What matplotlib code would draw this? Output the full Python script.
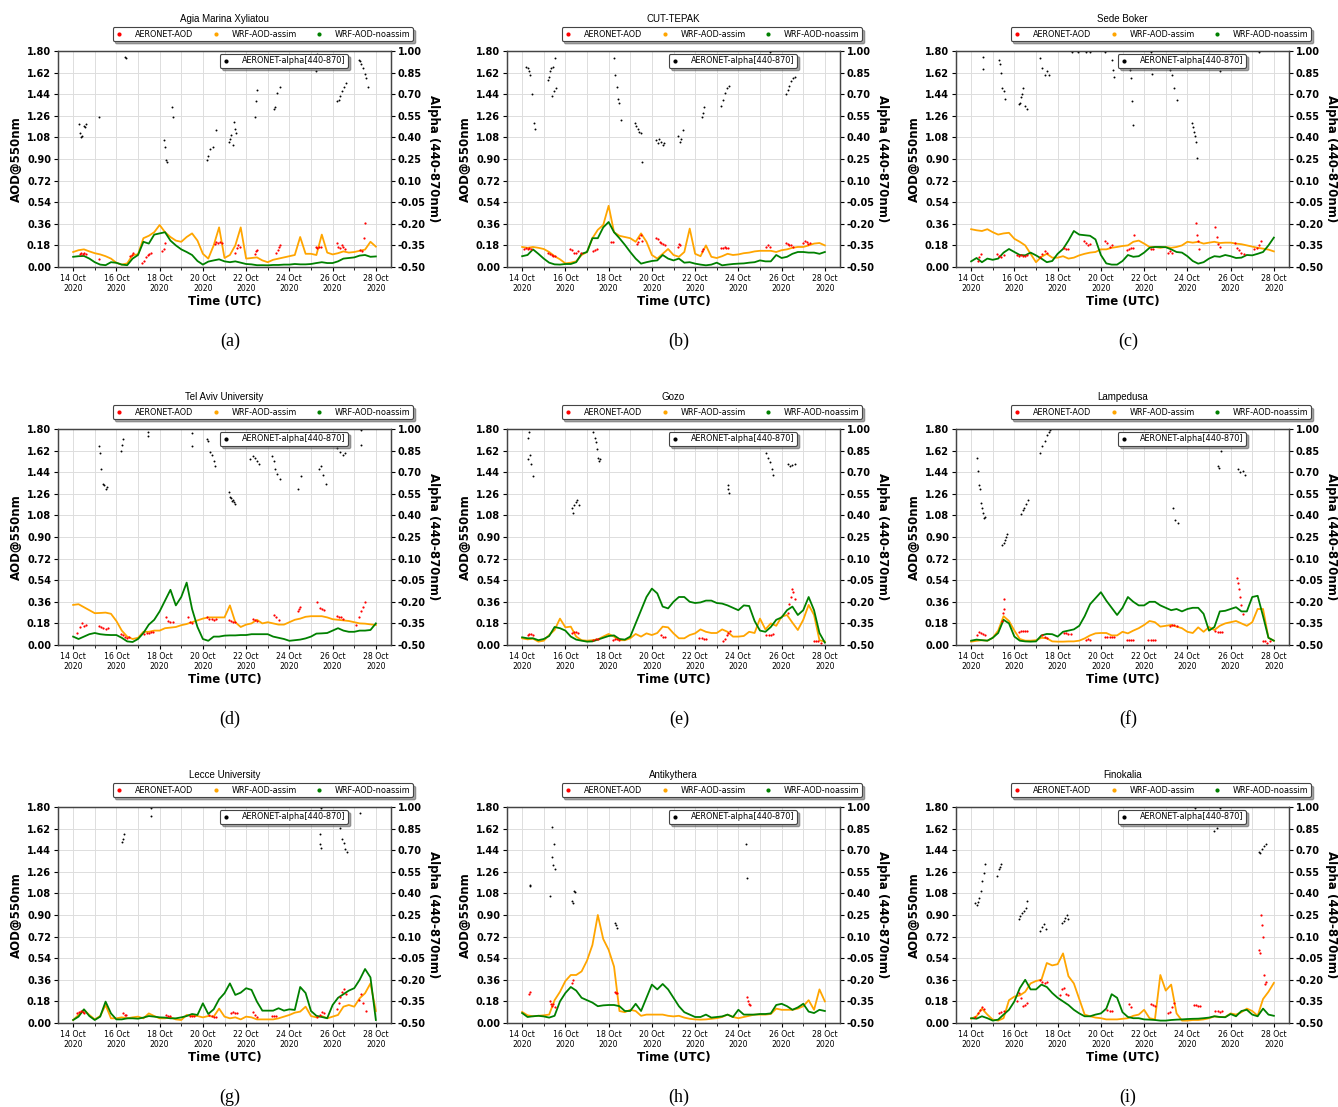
import matplotlib
matplotlib.use("Agg")
import matplotlib.pyplot as plt
import matplotlib.dates as mdates
from matplotlib.lines import Line2D
import numpy as np
from datetime import datetime

# model output every 6 h, 14 Oct 00 UTC -> 28 Oct 00 UTC
wrf_days = np.arange(57) * 0.25

# ---- Agia Marina Xyliatou ----
agia_assim = [0.125, 0.14, 0.147, 0.13, 0.115, 0.105, 0.09, 0.07, 0.035, 0.02, 0.03, 0.10, 0.105, 0.24, 0.26, 0.29,
              0.35, 0.29, 0.25, 0.22, 0.21, 0.25, 0.28, 0.22, 0.11, 0.07, 0.18, 0.33, 0.075, 0.10, 0.18, 0.33, 0.07,
              0.075, 0.08, 0.055, 0.04, 0.06, 0.07, 0.08, 0.09, 0.10, 0.25, 0.11, 0.11, 0.10, 0.27, 0.12, 0.105, 0.115,
              0.13, 0.12, 0.125, 0.135, 0.145, 0.21, 0.17]
agia_noassim = [0.085, 0.09, 0.092, 0.07, 0.04, 0.02, 0.015, 0.04, 0.035, 0.02, 0.015, 0.07, 0.10, 0.21, 0.195, 0.27,
                0.28, 0.29, 0.22, 0.18, 0.147, 0.125, 0.10, 0.05, 0.02, 0.045, 0.055, 0.064, 0.047, 0.04, 0.047, 0.036,
                0.025, 0.022, 0.015, 0.015, 0.014, 0.017, 0.017, 0.02, 0.02, 0.025, 0.022, 0.022, 0.025, 0.033, 0.04,
                0.033, 0.033, 0.047, 0.07, 0.075, 0.08, 0.095, 0.10, 0.085, 0.088]
agia_aod_t = [0.30, 0.38, 0.45, 0.52, 0.58, 1.20, 2.62, 2.70, 2.78, 3.20, 3.28, 3.36, 3.44, 3.52, 3.60, 4.12, 4.18,
              4.25, 6.55, 6.62, 6.70, 6.80, 6.88, 7.50, 7.56, 7.62, 7.70, 8.40, 8.46, 8.52, 9.40, 9.46, 9.52, 9.58,
              11.22, 11.30, 11.38, 11.46, 12.18, 12.26, 12.34, 12.42, 12.50, 12.58, 13.28, 13.36, 13.44, 13.52]
agia_aod = [0.11, 0.12, 0.11, 0.12, 0.11, 0.07, 0.09, 0.10, 0.12, 0.03, 0.05, 0.08, 0.10, 0.11, 0.12, 0.13, 0.15,
            0.20, 0.19, 0.21, 0.20, 0.21, 0.20, 0.12, 0.16, 0.18, 0.17, 0.11, 0.13, 0.14, 0.12, 0.14, 0.17, 0.18,
            0.17, 0.16, 0.17, 0.17, 0.20, 0.17, 0.16, 0.18, 0.17, 0.15, 0.14, 0.13, 0.24, 0.37]
agia_alpha_t = [0.25, 0.30, 0.35, 0.40, 0.50, 0.55, 0.60, 1.20, 2.40, 2.45, 4.20, 4.25, 4.30, 4.35, 4.55, 4.60,
                6.20, 6.25, 6.35, 6.45, 6.60, 7.20, 7.25, 7.30, 7.40, 7.45, 7.50, 7.55, 8.40, 8.45, 8.50,
                9.30, 9.35, 9.45, 9.55, 11.25, 11.30, 12.20, 12.28, 12.36, 12.44, 12.52, 12.60,
                13.20, 13.26, 13.32, 13.40, 13.48, 13.54, 13.62]
agia_alpha = [0.49, 0.43, 0.40, 0.41, 0.48, 0.47, 0.49, 0.54, 0.96, 0.95, 0.38, 0.33, 0.24, 0.23, 0.61, 0.54,
              0.24, 0.27, 0.32, 0.33, 0.45, 0.37, 0.39, 0.42, 0.35, 0.51, 0.46, 0.43, 0.54, 0.65, 0.73,
              0.60, 0.61, 0.71, 0.75, 0.86, 0.98, 0.65, 0.66, 0.69, 0.72, 0.75, 0.78,
              0.94, 0.93, 0.91, 0.88, 0.84, 0.81, 0.75]

# ---- CUT-TEPAK ----
cut_assim = [0.167, 0.16, 0.167, 0.16, 0.15, 0.125, 0.09, 0.064, 0.03, 0.036, 0.047, 0.10, 0.125, 0.24, 0.31, 0.35,
             0.51, 0.29, 0.26, 0.25, 0.24, 0.21, 0.28, 0.21, 0.10, 0.07, 0.11, 0.15, 0.10, 0.085, 0.125, 0.32, 0.11,
             0.09, 0.18, 0.085, 0.075, 0.09, 0.11, 0.10, 0.105, 0.115, 0.12, 0.13, 0.135, 0.135, 0.135, 0.125, 0.14,
             0.147, 0.16, 0.167, 0.167, 0.18, 0.195, 0.20, 0.18]
cut_noassim = [0.09, 0.10, 0.147, 0.11, 0.07, 0.036, 0.022, 0.02, 0.025, 0.025, 0.04, 0.11, 0.125, 0.24, 0.24, 0.33,
               0.375, 0.29, 0.24, 0.185, 0.125, 0.07, 0.028, 0.04, 0.05, 0.055, 0.10, 0.07, 0.055, 0.07, 0.036, 0.04,
               0.028, 0.02, 0.014, 0.02, 0.036, 0.014, 0.02, 0.025, 0.028, 0.03, 0.036, 0.04, 0.055, 0.047, 0.047,
               0.10, 0.075, 0.085, 0.11, 0.125, 0.125, 0.12, 0.12, 0.11, 0.125]
cut_aod_t = [0.10, 0.18, 0.26, 0.34, 0.40, 1.20, 1.28, 1.36, 1.44, 1.52, 2.20, 2.30, 2.40, 2.50, 2.60, 2.70,
             3.30, 3.38, 3.46, 4.10, 4.18, 5.30, 5.36, 5.42, 5.48, 5.54, 6.20, 6.28, 6.36, 6.44, 6.52, 6.60,
             7.20, 7.26, 7.32, 8.30, 8.36, 9.20, 9.28, 9.36, 9.44, 9.52, 11.30, 11.38, 11.46,
             12.20, 12.28, 12.36, 12.44, 12.52, 13.00, 13.08, 13.16, 13.24, 13.32]
cut_aod = [0.15, 0.16, 0.15, 0.16, 0.15, 0.12, 0.11, 0.10, 0.09, 0.09, 0.15, 0.14, 0.12, 0.12, 0.13, 0.12,
           0.13, 0.14, 0.15, 0.21, 0.21, 0.19, 0.21, 0.24, 0.27, 0.22, 0.24, 0.23, 0.21, 0.20, 0.19, 0.18,
           0.17, 0.19, 0.18, 0.13, 0.15, 0.16, 0.16, 0.17, 0.16, 0.16, 0.17, 0.18, 0.17,
           0.20, 0.19, 0.18, 0.18, 0.17, 0.20, 0.22, 0.21, 0.19, 0.20]
cut_alpha_t = [0.20, 0.25, 0.30, 0.35, 0.45, 0.55, 0.58, 1.20, 1.25, 1.30, 1.35, 1.45, 1.52, 1.40, 1.48, 1.55,
               4.25, 4.30, 4.40, 4.45, 4.50, 4.58, 5.20, 5.28, 5.35, 5.42, 5.50, 5.55, 6.20, 6.28, 6.35, 6.42,
               6.50, 6.58, 7.20, 7.28, 7.35, 7.42, 8.30, 8.35, 8.40, 9.20, 9.30, 9.40, 9.48, 9.56, 11.45,
               12.20, 12.28, 12.36, 12.44, 12.52, 12.60]
cut_alpha = [0.89, 0.88, 0.86, 0.83, 0.70, 0.50, 0.46, 0.80, 0.82, 0.86, 0.88, 0.89, 0.95, 0.69, 0.72, 0.74,
             0.95, 0.83, 0.75, 0.67, 0.64, 0.52, 0.50, 0.48, 0.46, 0.44, 0.43, 0.23, 0.38, 0.36, 0.39, 0.37,
             0.35, 0.36, 0.41, 0.37, 0.39, 0.45, 0.54, 0.57, 0.61, 0.62, 0.66, 0.71, 0.74, 0.76, 0.99,
             0.70, 0.73, 0.76, 0.79, 0.81, 0.82]

# ---- Sede Boker ----
sede_assim = [0.315, 0.306, 0.30, 0.315, 0.29, 0.27, 0.28, 0.285, 0.235, 0.21, 0.18, 0.11, 0.04, 0.085, 0.11, 0.078,
              0.078, 0.09, 0.07, 0.078, 0.097, 0.11, 0.12, 0.125, 0.147, 0.147, 0.16, 0.167, 0.175, 0.18, 0.21, 0.22,
              0.195, 0.167, 0.167, 0.16, 0.167, 0.16, 0.167, 0.18, 0.21, 0.203, 0.21, 0.195, 0.203, 0.21, 0.20,
              0.203, 0.203, 0.195, 0.19, 0.18, 0.17, 0.16, 0.153, 0.145, 0.13]
sede_noassim = [0.047, 0.075, 0.04, 0.07, 0.06, 0.07, 0.12, 0.15, 0.125, 0.10, 0.097, 0.12, 0.097, 0.07, 0.04, 0.05,
                0.11, 0.15, 0.22, 0.30, 0.27, 0.265, 0.26, 0.23, 0.10, 0.03, 0.02, 0.02, 0.05, 0.10, 0.085, 0.09,
                0.12, 0.16, 0.167, 0.167, 0.165, 0.147, 0.125, 0.12, 0.09, 0.05, 0.028, 0.04, 0.07, 0.09, 0.085,
                0.10, 0.09, 0.075, 0.078, 0.10, 0.097, 0.11, 0.125, 0.18, 0.245]
sede_aod_t = [0.30, 0.38, 0.46, 1.20, 1.30, 1.40, 1.50, 2.10, 2.20, 2.30, 2.40, 2.50, 2.60, 3.20, 3.30, 3.40, 3.50,
              4.30, 4.40, 4.50, 5.20, 5.30, 5.40, 5.50, 6.20, 6.30, 6.40, 6.50, 7.20, 7.30, 7.40, 7.50, 7.55,
              8.30, 8.40, 9.10, 9.20, 9.30, 10.40, 10.45, 10.50, 10.55, 11.30, 11.35, 11.40, 11.50,
              12.20, 12.30, 12.40, 12.50, 12.60, 13.10, 13.20, 13.30, 13.40]
sede_aod = [0.05, 0.08, 0.11, 0.11, 0.09, 0.08, 0.10, 0.10, 0.09, 0.10, 0.09, 0.09, 0.10, 0.08, 0.11, 0.13, 0.12,
            0.16, 0.15, 0.15, 0.22, 0.20, 0.18, 0.19, 0.22, 0.20, 0.17, 0.18, 0.14, 0.15, 0.16, 0.16, 0.27,
            0.15, 0.15, 0.12, 0.13, 0.12, 0.37, 0.27, 0.22, 0.15, 0.33, 0.25, 0.19, 0.17,
            0.20, 0.16, 0.14, 0.12, 0.11, 0.15, 0.16, 0.18, 0.22]
sede_alpha_t = [0.53, 0.53, 1.30, 1.35, 1.40, 1.45, 1.50, 1.55, 2.20, 2.25, 2.30, 2.35, 2.40, 2.50, 2.60,
                3.20, 3.30, 3.40, 3.50, 3.60, 4.65, 4.95, 5.30, 5.50, 6.20, 6.50, 6.55, 6.60,
                7.20, 7.25, 7.35, 7.40, 7.45, 7.50, 8.30, 8.32, 8.38, 9.20, 9.30, 9.40, 9.50,
                10.20, 10.25, 10.30, 10.35, 10.40, 10.45, 11.50, 13.30]
sede_alpha = [0.96, 0.875, 0.94, 0.91, 0.85, 0.745, 0.72, 0.67, 0.63, 0.64, 0.68, 0.70, 0.74, 0.62, 0.60,
              0.95, 0.88, 0.83, 0.86, 0.83, 0.995, 0.995, 0.995, 0.995, 0.995, 0.94, 0.87, 0.82,
              0.93, 0.95, 0.87, 0.81, 0.65, 0.485, 0.995, 0.88, 0.84, 0.87, 0.83, 0.74, 0.66,
              0.50, 0.47, 0.44, 0.41, 0.37, 0.26, 0.86, 0.995]

# ---- Tel Aviv University ----
tel_assim = [0.334, 0.34, 0.315, 0.29, 0.265, 0.267, 0.27, 0.26, 0.20, 0.12, 0.07, 0.05, 0.06, 0.11, 0.11, 0.12,
             0.12, 0.14, 0.145, 0.15, 0.165, 0.175, 0.19, 0.205, 0.22, 0.23, 0.23, 0.23, 0.23, 0.33, 0.19, 0.15,
             0.17, 0.18, 0.21, 0.18, 0.19, 0.18, 0.17, 0.17, 0.19, 0.21, 0.22, 0.235, 0.24, 0.24, 0.24, 0.23,
             0.215, 0.21, 0.205, 0.20, 0.19, 0.18, 0.178, 0.172, 0.167]
tel_noassim = [0.07, 0.05, 0.07, 0.09, 0.10, 0.09, 0.085, 0.083, 0.083, 0.06, 0.03, 0.025, 0.05, 0.10, 0.17, 0.21,
               0.28, 0.37, 0.46, 0.33, 0.40, 0.52, 0.30, 0.15, 0.05, 0.035, 0.07, 0.07, 0.078, 0.08, 0.08, 0.083,
               0.083, 0.09, 0.09, 0.09, 0.09, 0.07, 0.06, 0.05, 0.035, 0.04, 0.045, 0.055, 0.07, 0.095, 0.097,
               0.10, 0.12, 0.14, 0.12, 0.11, 0.11, 0.12, 0.12, 0.125, 0.18]
tel_aod_t = [0.20, 0.30, 0.40, 0.50, 0.60, 1.20, 1.30, 1.40, 1.50, 1.60, 2.20, 2.30, 2.40, 2.50, 2.60,
             3.30, 3.40, 3.50, 3.60, 3.70, 4.30, 4.40, 4.50, 4.60, 5.30, 5.40, 5.50,
             6.20, 6.30, 6.40, 6.50, 6.60, 7.20, 7.30, 7.40, 7.50, 8.30, 8.40, 8.50, 9.30, 9.40, 9.50,
             10.40, 10.45, 10.50, 11.30, 11.40, 11.50, 11.60, 12.20, 12.30, 12.40, 12.50,
             13.10, 13.20, 13.30, 13.40, 13.50]
tel_aod = [0.10, 0.15, 0.18, 0.16, 0.17, 0.16, 0.15, 0.14, 0.13, 0.14, 0.09, 0.08, 0.07, 0.06, 0.07,
           0.09, 0.10, 0.10, 0.11, 0.11, 0.23, 0.20, 0.19, 0.19, 0.23, 0.19, 0.18,
           0.23, 0.22, 0.22, 0.21, 0.22, 0.21, 0.20, 0.19, 0.19, 0.22, 0.21, 0.20, 0.25, 0.23, 0.21,
           0.28, 0.30, 0.32, 0.36, 0.31, 0.30, 0.29, 0.24, 0.23, 0.23, 0.22,
           0.17, 0.23, 0.28, 0.32, 0.36]
tel_alpha_t = [1.20, 1.25, 1.30, 1.40, 1.45, 1.50, 1.55, 2.20, 2.25, 2.30, 3.45, 3.48, 5.50, 5.52,
               6.20, 6.25, 6.35, 6.40, 6.50, 6.55, 7.20, 7.25, 7.30, 7.35, 7.40, 7.45, 7.50,
               8.20, 8.30, 8.40, 8.50, 8.60, 9.20, 9.30, 9.35, 9.45, 9.55, 10.40, 10.55,
               11.35, 11.45, 11.55, 11.70, 12.20, 12.35, 12.50, 12.55, 13.30, 13.32]
tel_alpha = [0.88, 0.83, 0.72, 0.62, 0.61, 0.58, 0.60, 0.85, 0.89, 0.93, 0.98, 0.95, 0.97, 0.88,
             0.93, 0.92, 0.84, 0.82, 0.78, 0.745, 0.56, 0.53, 0.52, 0.50, 0.51, 0.49, 0.48,
             0.79, 0.81, 0.80, 0.78, 0.76, 0.81, 0.78, 0.72, 0.69, 0.65, 0.58, 0.675,
             0.72, 0.74, 0.68, 0.62, 0.87, 0.84, 0.82, 0.83, 0.995, 0.89]

# ---- Gozo ----
gozo_assim = [0.056, 0.047, 0.053, 0.028, 0.036, 0.083, 0.125, 0.22, 0.147, 0.153, 0.07, 0.04, 0.036, 0.04, 0.047,
              0.07, 0.092, 0.07, 0.04, 0.04, 0.056, 0.092, 0.07, 0.097, 0.083, 0.10, 0.153, 0.147, 0.097, 0.056,
              0.056, 0.083, 0.097, 0.13, 0.11, 0.10, 0.10, 0.13, 0.11, 0.07, 0.07, 0.075, 0.11, 0.10, 0.22, 0.13,
              0.18, 0.16, 0.236, 0.25, 0.186, 0.125, 0.21, 0.334, 0.25, 0.04, 0.028]
gozo_noassim = [0.064, 0.056, 0.056, 0.04, 0.05, 0.075, 0.15, 0.14, 0.12, 0.07, 0.045, 0.036, 0.028, 0.03, 0.045,
                0.06, 0.075, 0.08, 0.05, 0.045, 0.07, 0.18, 0.29, 0.40, 0.47, 0.43, 0.32, 0.305, 0.36, 0.40, 0.40,
                0.36, 0.35, 0.355, 0.37, 0.37, 0.35, 0.345, 0.33, 0.31, 0.29, 0.33, 0.325, 0.20, 0.12, 0.11, 0.15,
                0.21, 0.23, 0.29, 0.32, 0.25, 0.29, 0.40, 0.29, 0.10, 0.02]
gozo_aod_t = [0.25, 0.32, 0.40, 0.48, 2.30, 2.40, 2.50, 2.60, 3.30, 3.40, 3.50, 4.20, 4.30, 4.40, 4.50,
              6.40, 6.50, 6.60, 8.20, 8.30, 8.40, 8.50, 9.30, 9.38, 9.46, 9.54, 9.60, 11.30, 11.40, 11.50, 11.60,
              12.30, 12.36, 12.42, 12.48, 12.54, 12.60, 13.50, 13.60, 13.70, 13.80]
gozo_aod = [0.08, 0.09, 0.09, 0.08, 0.10, 0.11, 0.11, 0.10, 0.04, 0.05, 0.05, 0.04, 0.05, 0.05, 0.04,
            0.08, 0.07, 0.07, 0.06, 0.06, 0.05, 0.05, 0.03, 0.05, 0.08, 0.10, 0.12, 0.08, 0.08, 0.08, 0.09,
            0.27, 0.34, 0.40, 0.47, 0.44, 0.38, 0.03, 0.03, 0.03, 0.02]
gozo_alpha_t = [0.25, 0.28, 0.32, 0.36, 0.42, 0.48, 2.30, 2.36, 2.42, 2.48, 2.55, 2.62,
                3.30, 3.35, 3.40, 3.45, 3.50, 3.55, 3.60, 9.50, 9.52, 9.55,
                11.30, 11.38, 11.46, 11.54, 11.62, 12.30, 12.40, 12.50, 12.60]
gozo_alpha = [0.79, 0.94, 0.98, 0.82, 0.76, 0.675, 0.45, 0.42, 0.47, 0.49, 0.51, 0.47,
              0.98, 0.94, 0.91, 0.86, 0.80, 0.78, 0.79, 0.61, 0.58, 0.555,
              0.83, 0.80, 0.77, 0.72, 0.68, 0.76, 0.745, 0.75, 0.76]

# ---- Lampedusa ----
lamp_assim = [0.028, 0.035, 0.04, 0.036, 0.06, 0.12, 0.24, 0.20, 0.12, 0.05, 0.036, 0.036, 0.04, 0.06, 0.056, 0.03,
              0.028, 0.028, 0.03, 0.03, 0.036, 0.055, 0.08, 0.097, 0.10, 0.10, 0.08, 0.08, 0.11, 0.097, 0.12, 0.14,
              0.167, 0.20, 0.19, 0.153, 0.16, 0.167, 0.153, 0.14, 0.11, 0.10, 0.147, 0.11, 0.15, 0.125, 0.16, 0.18,
              0.19, 0.20, 0.18, 0.16, 0.19, 0.30, 0.30, 0.06, 0.036]
lamp_noassim = [0.036, 0.045, 0.04, 0.036, 0.06, 0.10, 0.21, 0.18, 0.07, 0.036, 0.03, 0.028, 0.03, 0.08, 0.092, 0.09,
                0.07, 0.11, 0.12, 0.13, 0.16, 0.24, 0.34, 0.39, 0.44, 0.37, 0.31, 0.25, 0.31, 0.40, 0.36, 0.33,
                0.33, 0.36, 0.36, 0.33, 0.31, 0.29, 0.30, 0.28, 0.30, 0.31, 0.31, 0.26, 0.12, 0.15, 0.28, 0.285,
                0.30, 0.315, 0.28, 0.28, 0.40, 0.41, 0.24, 0.06, 0.036]
lamp_aod_t = [0.25, 0.35, 0.45, 0.55, 0.62, 1.45, 1.48, 1.50, 1.52, 2.20, 2.30, 2.40, 2.50, 2.60, 3.30, 3.40, 3.50,
              4.30, 4.40, 4.50, 4.60, 5.30, 5.40, 5.50, 6.20, 6.30, 6.40, 6.50, 6.60, 7.20, 7.30, 7.40, 7.50,
              8.20, 8.30, 8.40, 8.50, 9.20, 9.30, 9.40, 9.50, 11.30, 11.40, 11.50, 11.60,
              12.30, 12.35, 12.40, 12.45, 12.50, 12.55, 13.50, 13.60, 13.70, 13.80]
lamp_aod = [0.08, 0.11, 0.10, 0.09, 0.08, 0.20, 0.27, 0.38, 0.30, 0.11, 0.12, 0.12, 0.12, 0.12, 0.08, 0.07, 0.06,
            0.10, 0.10, 0.09, 0.09, 0.04, 0.05, 0.04, 0.07, 0.07, 0.07, 0.07, 0.07, 0.04, 0.04, 0.04, 0.04,
            0.045, 0.045, 0.04, 0.045, 0.16, 0.17, 0.17, 0.16, 0.12, 0.11, 0.11, 0.11,
            0.56, 0.52, 0.47, 0.40, 0.33, 0.26, 0.03, 0.03, 0.02, 0.03]
lamp_alpha_t = [0.25, 0.30, 0.35, 0.40, 0.45, 0.50, 0.55, 0.60, 0.65, 1.45, 1.50, 1.55, 1.60, 1.65,
                2.30, 2.38, 2.46, 2.54, 2.62, 3.20, 3.30, 3.40, 3.50, 3.58, 3.65,
                9.35, 9.45, 9.55, 11.40, 11.45, 11.55, 12.35, 12.45, 12.55, 12.65]
lamp_alpha = [0.80, 0.705, 0.61, 0.58, 0.485, 0.45, 0.42, 0.38, 0.39, 0.195, 0.21, 0.23, 0.25, 0.27,
              0.41, 0.44, 0.45, 0.48, 0.51, 0.83, 0.88, 0.92, 0.96, 0.98, 0.99,
              0.45, 0.37, 0.35, 0.74, 0.73, 0.85, 0.72, 0.70, 0.71, 0.68]

# ---- Lecce University ----
lecce_assim = [0.025, 0.067, 0.11, 0.067, 0.03, 0.058, 0.15, 0.039, 0.039, 0.047, 0.039, 0.047, 0.053, 0.039, 0.08,
               0.058, 0.039, 0.039, 0.047, 0.03, 0.025, 0.067, 0.058, 0.058, 0.047, 0.058, 0.053, 0.12, 0.053,
               0.039, 0.047, 0.03, 0.053, 0.047, 0.03, 0.03, 0.03, 0.03, 0.039, 0.053, 0.067, 0.086, 0.095, 0.136,
               0.058, 0.047, 0.058, 0.039, 0.053, 0.067, 0.136, 0.15, 0.136, 0.206, 0.248, 0.33, 0.10]
lecce_noassim = [0.025, 0.053, 0.114, 0.058, 0.025, 0.053, 0.178, 0.08, 0.03, 0.03, 0.039, 0.039, 0.036, 0.045,
                 0.058, 0.053, 0.047, 0.045, 0.039, 0.039, 0.047, 0.058, 0.075, 0.067, 0.164, 0.075, 0.114, 0.198,
                 0.248, 0.33, 0.234, 0.253, 0.29, 0.276, 0.178, 0.103, 0.103, 0.103, 0.123, 0.103, 0.114, 0.109,
                 0.30, 0.25, 0.10, 0.06, 0.05, 0.04, 0.15, 0.21, 0.24, 0.27, 0.29, 0.36, 0.45, 0.38, 0.025]
lecce_aod_t = [0.20, 0.28, 0.36, 0.44, 0.50, 2.30, 2.38, 2.46, 4.30, 4.38, 4.46, 5.40, 5.50, 5.60,
               6.30, 6.40, 6.50, 6.60, 7.30, 7.40, 7.50, 7.60, 8.30, 8.40, 8.50, 9.20, 9.30, 9.40,
               11.30, 11.40, 11.50, 11.60, 12.20, 12.28, 12.36, 12.44, 12.52, 12.60, 13.20, 13.30, 13.40, 13.55]
lecce_aod = [0.08, 0.09, 0.10, 0.09, 0.08, 0.08, 0.07, 0.07, 0.07, 0.06, 0.06, 0.06, 0.06, 0.06,
             0.07, 0.06, 0.05, 0.05, 0.08, 0.09, 0.08, 0.08, 0.09, 0.07, 0.05, 0.06, 0.06, 0.06,
             0.05, 0.07, 0.09, 0.08, 0.12, 0.17, 0.22, 0.26, 0.28, 0.24, 0.19, 0.24, 0.17, 0.10]
lecce_alpha_t = [2.25, 2.30, 2.35, 3.60, 3.62, 11.40, 11.42, 11.45, 11.48, 12.35, 12.45, 12.52, 12.58, 12.65, 13.25]
lecce_alpha = [0.76, 0.78, 0.81, 0.99, 0.94, 0.81, 0.74, 0.715, 0.99, 0.855, 0.78, 0.75, 0.705, 0.69, 0.96]

# ---- Antikythera ----
anti_assim = [0.092, 0.064, 0.056, 0.06, 0.064, 0.07, 0.19, 0.26, 0.35, 0.40, 0.40, 0.43, 0.52, 0.65, 0.90, 0.70,
              0.61, 0.47, 0.10, 0.09, 0.11, 0.10, 0.06, 0.07, 0.07, 0.07, 0.07, 0.06, 0.055, 0.06, 0.045, 0.035,
              0.03, 0.028, 0.03, 0.035, 0.04, 0.05, 0.07, 0.05, 0.04, 0.05, 0.06, 0.07, 0.07, 0.07, 0.075, 0.12,
              0.11, 0.11, 0.11, 0.12, 0.14, 0.19, 0.11, 0.28, 0.18]
anti_noassim = [0.083, 0.05, 0.056, 0.06, 0.055, 0.045, 0.06, 0.18, 0.25, 0.30, 0.27, 0.21, 0.19, 0.17, 0.14, 0.147,
                0.15, 0.15, 0.14, 0.10, 0.10, 0.16, 0.10, 0.21, 0.32, 0.28, 0.325, 0.28, 0.21, 0.14, 0.09, 0.07,
                0.05, 0.05, 0.07, 0.045, 0.05, 0.055, 0.07, 0.05, 0.11, 0.07, 0.07, 0.07, 0.075, 0.075, 0.08, 0.15,
                0.16, 0.14, 0.11, 0.13, 0.16, 0.095, 0.083, 0.11, 0.10]
anti_aod_t = [0.30, 0.35, 1.30, 1.35, 1.40, 1.45, 1.50, 2.30, 2.35, 4.30, 4.35, 4.40, 10.40, 10.45, 10.50, 10.55]
anti_aod = [0.24, 0.26, 0.18, 0.16, 0.14, 0.16, 0.13, 0.33, 0.36, 0.26, 0.25, 0.25, 0.22, 0.18, 0.16, 0.15]
anti_alpha_t = [0.35, 0.37, 1.30, 1.38, 1.40, 1.45, 1.48, 1.52, 2.30, 2.35, 2.40, 2.45, 4.30, 4.35, 4.40, 10.37, 10.38]
anti_alpha = [0.46, 0.45, 0.38, 0.86, 0.65, 0.60, 0.745, 0.57, 0.35, 0.33, 0.42, 0.41, 0.195, 0.18, 0.16, 0.74, 0.51]

# ---- Finokalia ----
fino_assim = [0.036, 0.056, 0.12, 0.07, 0.028, 0.02, 0.04, 0.19, 0.22, 0.23, 0.26, 0.33, 0.35, 0.36, 0.50, 0.48,
              0.49, 0.58, 0.39, 0.33, 0.20, 0.07, 0.056, 0.045, 0.04, 0.03, 0.03, 0.03, 0.035, 0.04, 0.06, 0.07,
              0.11, 0.04, 0.03, 0.40, 0.27, 0.32, 0.08, 0.02, 0.02, 0.025, 0.025, 0.03, 0.04, 0.055, 0.05, 0.05,
              0.08, 0.07, 0.09, 0.12, 0.10, 0.06, 0.20, 0.26, 0.334]
fino_noassim = [0.04, 0.036, 0.056, 0.04, 0.02, 0.028, 0.07, 0.11, 0.18, 0.29, 0.36, 0.28, 0.28, 0.32, 0.30, 0.25,
                0.21, 0.18, 0.15, 0.11, 0.08, 0.056, 0.056, 0.07, 0.08, 0.12, 0.24, 0.21, 0.09, 0.05, 0.04, 0.04,
                0.03, 0.028, 0.025, 0.02, 0.02, 0.025, 0.028, 0.03, 0.033, 0.035, 0.036, 0.04, 0.045, 0.056, 0.05,
                0.048, 0.075, 0.056, 0.10, 0.11, 0.07, 0.056, 0.12, 0.07, 0.06]
fino_aod_t = [0.20, 0.30, 0.40, 0.50, 0.60, 1.30, 1.40, 1.50, 2.10, 2.20, 2.30, 2.40, 2.50, 2.60,
              3.20, 3.30, 3.40, 3.50, 4.10, 4.20, 4.30, 4.40, 4.50, 6.30, 6.40, 6.50, 7.30, 7.40,
              8.30, 8.40, 8.50, 9.10, 9.20, 9.30, 9.40, 10.30, 10.40, 10.50, 10.60, 11.30, 11.40, 11.50, 11.60,
              13.30, 13.35, 13.40, 13.45, 13.50, 13.55, 13.60, 13.65]
fino_aod = [0.05, 0.08, 0.11, 0.13, 0.12, 0.08, 0.09, 0.10, 0.18, 0.25, 0.21, 0.14, 0.15, 0.17,
            0.36, 0.34, 0.33, 0.34, 0.23, 0.28, 0.29, 0.24, 0.23, 0.11, 0.10, 0.10, 0.16, 0.13,
            0.16, 0.15, 0.14, 0.08, 0.09, 0.13, 0.17, 0.15, 0.15, 0.14, 0.14, 0.10, 0.10, 0.09, 0.10,
            0.61, 0.58, 0.90, 0.815, 0.72, 0.40, 0.325, 0.34]
fino_alpha_t = [0.20, 0.25, 0.30, 0.38, 0.45, 0.52, 0.60, 0.65, 1.20, 1.28, 1.35, 1.40,
                2.20, 2.28, 2.36, 2.44, 2.52, 2.60, 3.20, 3.28, 3.36, 3.44, 4.20, 4.28, 4.36, 4.44, 4.50,
                10.35, 11.25, 11.35, 11.50, 13.30, 13.38, 13.46, 13.54, 13.62]
fino_alpha = [0.33, 0.32, 0.34, 0.37, 0.415, 0.485, 0.54, 0.605, 0.52, 0.57, 0.58, 0.605,
              0.22, 0.24, 0.265, 0.28, 0.30, 0.35, 0.14, 0.17, 0.19, 0.155, 0.195, 0.21, 0.23, 0.25, 0.22,
              0.995, 0.83, 0.855, 0.995, 0.69, 0.68, 0.705, 0.73, 0.745]

stations = [
    ("Agia Marina Xyliatou", agia_assim, agia_noassim, agia_aod_t, agia_aod, agia_alpha_t, agia_alpha),
    ("CUT-TEPAK", cut_assim, cut_noassim, cut_aod_t, cut_aod, cut_alpha_t, cut_alpha),
    ("Sede Boker", sede_assim, sede_noassim, sede_aod_t, sede_aod, sede_alpha_t, sede_alpha),
    ("Tel Aviv University", tel_assim, tel_noassim, tel_aod_t, tel_aod, tel_alpha_t, tel_alpha),
    ("Gozo", gozo_assim, gozo_noassim, gozo_aod_t, gozo_aod, gozo_alpha_t, gozo_alpha),
    ("Lampedusa", lamp_assim, lamp_noassim, lamp_aod_t, lamp_aod, lamp_alpha_t, lamp_alpha),
    ("Lecce University", lecce_assim, lecce_noassim, lecce_aod_t, lecce_aod, lecce_alpha_t, lecce_alpha),
    ("Antikythera", anti_assim, anti_noassim, anti_aod_t, anti_aod, anti_alpha_t, anti_alpha),
    ("Finokalia", fino_assim, fino_noassim, fino_aod_t, fino_aod, fino_alpha_t, fino_alpha),
]
captions = ["(a)", "(b)", "(c)", "(d)", "(e)", "(f)", "(g)", "(h)", "(i)"]

t0 = mdates.date2num(datetime(2020, 10, 14))
aod_ticks = np.linspace(0, 1.8, 11)
alpha_ticks = np.linspace(-0.5, 1.0, 11)

W, H = 1338, 1107
fig = plt.figure(figsize=(W / 100, H / 100), dpi=100)

col_left = [58, 507, 956]
row_top = [51, 429, 807]
aw, ah = 333, 216

for i, (name, assim, noassim, aod_t, aod, al_t, al) in enumerate(stations):
    r, c = divmod(i, 3)
    ax = fig.add_axes([col_left[c] / W, 1 - (row_top[r] + ah) / H, aw / W, ah / H])

    ax.plot(t0 + wrf_days, assim, color="orange", lw=1.3, zorder=3)
    ax.plot(t0 + wrf_days, noassim, color="green", lw=1.3, zorder=4)
    ax.plot(t0 + np.array(aod_t), aod, "o", color="red", ms=1.6, mew=0, zorder=5)

    ax.set_xlim(t0 - 0.7, t0 + 14.7)
    ax.set_ylim(0, 1.8)
    ax.set_yticks(aod_ticks)
    ax.set_yticklabels(["%.2f" % v for v in aod_ticks], fontweight="bold", fontsize=7)
    ax.xaxis.set_major_locator(mdates.DayLocator(bymonthday=range(14, 29, 2)))
    ax.xaxis.set_minor_locator(mdates.DayLocator())
    ax.xaxis.set_major_formatter(mdates.DateFormatter("%d %b\n%Y"))
    ax.tick_params(axis="x", which="major", labelsize=5.6, length=3, pad=2)
    ax.tick_params(axis="x", which="minor", length=2)
    ax.tick_params(axis="y", length=3, pad=2)
    ax.grid(True, axis="x", which="both", color="#dddddd", lw=0.7)
    ax.grid(True, axis="y", which="major", color="#dddddd", lw=0.7)
    ax.set_axisbelow(True)
    ax.set_xlabel("Time (UTC)", fontsize=8.5, fontweight="bold", labelpad=1)
    ax.set_ylabel("AOD@550nm", fontsize=8.5, fontweight="bold", labelpad=3)
    ax.set_title(name, fontsize=7, family="Liberation Sans", pad=21)

    ax2 = ax.twinx()
    ax2.plot(t0 + np.array(al_t), al, "o", color="black", ms=1.4, mew=0)
    ax2.set_ylim(-0.5, 1.0)
    ax2.set_yticks(alpha_ticks)
    ax2.set_yticklabels(["%.2f" % v for v in alpha_ticks], fontweight="bold", fontsize=7)
    ax2.tick_params(axis="y", length=3, pad=2)
    ax2.set_ylabel("Alpha (440-870nm)", fontsize=8.5, fontweight="bold", rotation=270, labelpad=10)

    for a in (ax, ax2):
        for sp in a.spines.values():
            sp.set_color("#444444")
            sp.set_linewidth(0.9)

    handles = [Line2D([], [], ls="none", marker="o", ms=3, mew=0, color=col) for col in ("red", "orange", "green")]
    leg = ax.legend(handles, ["AERONET-AOD", "WRF-AOD-assim", "WRF-AOD-noassim"], ncol=3, fontsize=5.9,
                    loc="lower right", bbox_to_anchor=(1.066, 1.046), borderaxespad=0, handlelength=1.0,
                    handletextpad=1.4, columnspacing=2.3, borderpad=0.28, shadow=True, framealpha=1,
                    edgecolor="#444444")
    leg.get_frame().set_linewidth(0.8)
    h2 = [Line2D([], [], ls="none", marker="o", ms=3, mew=0, color="black")]
    leg2 = ax2.legend(h2, ["AERONET-alpha[440-870]"], fontsize=5.9, loc="upper right",
                      bbox_to_anchor=(0.871, 0.986), borderaxespad=0, handlelength=1.0, handletextpad=1.4,
                      borderpad=0.3, shadow=True, framealpha=1, edgecolor="#444444")
    leg2.get_frame().set_linewidth(0.8)

    fig.text((col_left[c] + 172) / W, 1 - (row_top[r] + 290) / H, captions[i],
             family="Liberation Serif", fontsize=13, ha="center", va="center")

fig.savefig("out.png", dpi=100)
